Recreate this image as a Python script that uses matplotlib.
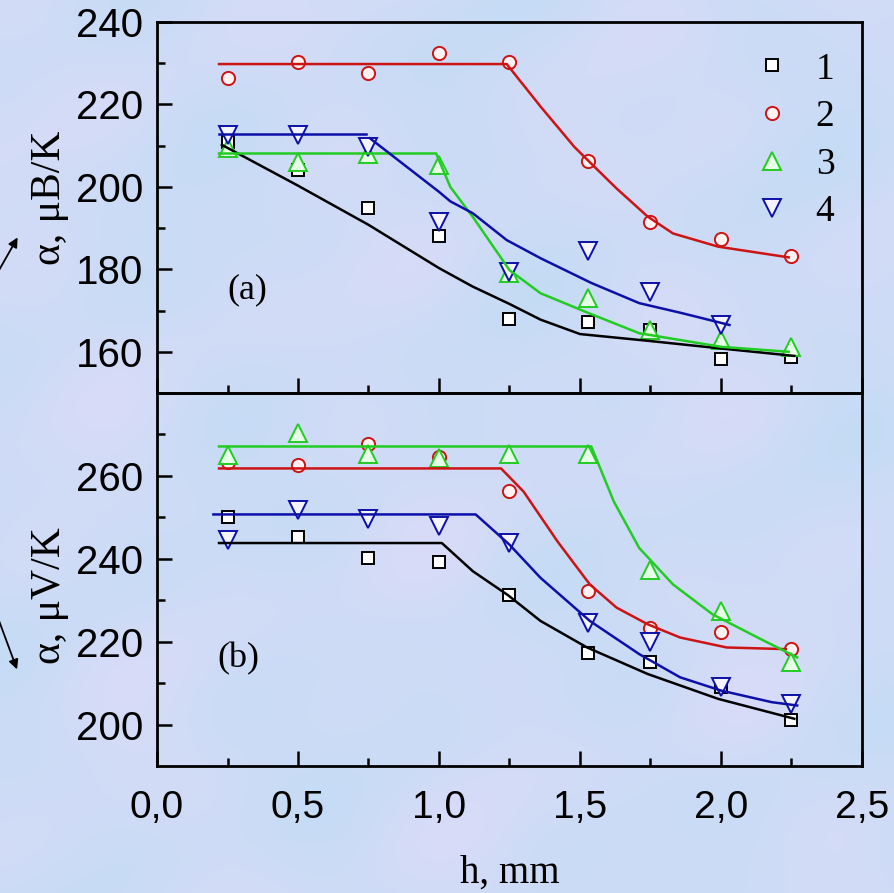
import numpy as np
import matplotlib
matplotlib.use("Agg")
import matplotlib.pyplot as plt
from matplotlib.lines import Line2D
from matplotlib.patches import FancyArrowPatch
from matplotlib.ticker import FixedLocator

# thickness points, mm
h_pts = [0.25, 0.5, 0.75, 1.0, 1.25, 1.53, 1.75, 2.0, 2.25]

# (a) alpha, uB/K
a1 = [211.0, 204.0, 195.0, 188.0, 168.0, 167.2, 165.3, 158.2, 158.7]
a2 = [226.4, 230.3, 227.6, 232.4, 230.3, 206.3, 191.5, 187.4, 183.2]
a3 = [209.4, 206.0, 208.0, 205.3, 179.1, 173.0, 165.3, 162.9, 161.2]
a4 = [212.6, 212.6, 209.7, 191.5, 179.4, 184.4, 174.5, 166.5]

# (b) alpha, uV/K
b1 = [250.0, 245.2, 240.2, 239.2, 231.2, 217.2, 215.2, 209.0, 201.0]
b2 = [263.4, 262.6, 267.8, 264.6, 256.4, 232.3, 223.2, 222.3, 218.3]
b3 = [265.1, 270.4, 265.4, 264.3, 265.4, 265.4, 237.4, 227.4, 215.0]
b4 = [244.6, 251.8, 249.6, 247.8, 243.8, 224.6, 219.8, 209.0, 205.0]

# fitted curves (a)
fa1_h = [0.23, 0.5, 0.75, 1.0, 1.12, 1.25, 1.36, 1.5, 1.75, 2.0, 2.26]
fa1_v = [210.2, 200.3, 190.8, 180.3, 175.8, 171.6, 167.8, 164.3, 162.6, 160.8, 159.0]
fa2_h = [0.22, 1.24, 1.36, 1.48, 1.53, 1.63, 1.74, 1.83, 1.99, 2.24]
fa2_v = [229.8, 229.8, 219.5, 209.7, 206.3, 199.6, 192.8, 188.7, 185.5, 182.9]
fa3_h = [0.22, 0.99, 1.04, 1.12, 1.25, 1.36, 1.53, 1.71, 2.0, 2.24]
fa3_v = [208.1, 208.1, 200.0, 192.7, 179.8, 174.2, 169.4, 164.5, 161.2, 160.0]
fa4a_h = [0.22, 0.74]
fa4a_v = [212.8, 212.8]
fa4b_h = [0.755, 1.0, 1.04, 1.12, 1.24, 1.36, 1.54, 1.71, 1.86, 2.03]
fa4b_v = [211.8, 198.8, 196.5, 193.6, 187.1, 182.7, 176.7, 171.8, 169.4, 166.5]

# fitted curves (b)
fb1_h = [0.22, 1.01, 1.12, 1.245, 1.36, 1.525, 1.74, 1.99, 2.26]
fb1_v = [243.8, 243.8, 237.0, 231.2, 225.0, 218.6, 212.2, 206.2, 201.4]
fb2_h = [0.22, 1.22, 1.3, 1.42, 1.535, 1.63, 1.74, 1.855, 2.02, 2.23]
fb2_v = [261.8, 261.8, 256.2, 244.2, 233.8, 228.2, 224.2, 221.0, 218.6, 218.2]
fb3_h = [0.22, 1.54, 1.62, 1.71, 1.83, 1.97, 2.13, 2.27]
fb3_v = [267.1, 267.1, 253.8, 242.6, 233.8, 226.6, 221.0, 216.2]
fb4_h = [0.2, 1.13, 1.25, 1.36, 1.535, 1.71, 1.855, 2.0, 2.18, 2.27]
fb4_v = [250.7, 250.7, 243.4, 235.4, 225.0, 217.0, 211.4, 208.2, 205.4, 204.6]

labels = ["1", "2", "3", "4"]
xtick_labels = ["0,0", "0,5", "1,0", "1,5", "2,0", "2,5"]

sans = "Liberation Sans"
serif = "Liberation Serif"

RED = "#cc1414"
GREEN = "#22cc22"
BLUE = "#0c10a8"

styles = [
    dict(marker="s", ms=8.5, mec="black", mfc="white"),
    dict(marker="o", ms=9.5, mec=RED, mfc="#fff2f2"),
    dict(marker="^", ms=13, mec=GREEN, mfc="#e6ffe6"),
    dict(marker="v", ms=13, mec=BLUE, mfc="#f4f4ff"),
]

fig = plt.figure(figsize=(8.95, 8.93), dpi=100)

# soft mottled backdrop
bg = fig.add_axes([0, 0, 1, 1], zorder=-10)
yy, xx = np.mgrid[0:1:300j, 0:1:300j]
tex = (np.sin(2 * np.pi * (2.3 * xx + 1.1 * yy)) * np.sin(2 * np.pi * (1.7 * yy - 0.6 * xx))
       + 0.5 * np.sin(2 * np.pi * 4.3 * xx + 1.0) * np.cos(2 * np.pi * 3.1 * yy + 0.4)
       + 0.3 * np.cos(2 * np.pi * (6.2 * yy + 2.5 * xx)))
tex = (tex - tex.min()) / (tex.max() - tex.min())
c1 = np.array([0.77, 0.86, 0.96])
c2 = np.array([0.85, 0.86, 0.97])
img = c1 + (c2 - c1) * tex[..., None]
bg.imshow(img, aspect="auto", extent=[0, 1, 0, 1], interpolation="bicubic")
bg.axis("off")

left, width = 157 / 895, 705 / 895
ax_a = fig.add_axes([left, 1 - 393 / 893, width, 371 / 893])
ax_b = fig.add_axes([left, 1 - 766 / 893, width, 373 / 893])


def draw_panel(ax, series, fits):
    for vals, st in zip(series, styles):
        ax.plot(h_pts[:len(vals)], vals, ls="none", mew=1.4, zorder=3, **st)
    for (fh, fv), col in fits:
        ax.plot(fh, fv, color=col, lw=1.8, zorder=4)


draw_panel(ax_a, [a1, a2, a3, a4],
           [((fa1_h, fa1_v), "black"), ((fa2_h, fa2_v), RED), ((fa3_h, fa3_v), GREEN),
            ((fa4a_h, fa4a_v), BLUE), ((fa4b_h, fa4b_v), BLUE)])
draw_panel(ax_b, [b1, b2, b3, b4],
           [((fb1_h, fb1_v), "black"), ((fb2_h, fb2_v), RED), ((fb3_h, fb3_v), GREEN),
            ((fb4_h, fb4_v), BLUE)])

ax_a.set_ylim(150, 240)
ax_b.set_ylim(190, 280)
ax_a.yaxis.set_major_locator(FixedLocator([160, 180, 200, 220, 240]))
ax_a.yaxis.set_minor_locator(FixedLocator([170, 190, 210, 230]))
ax_b.yaxis.set_major_locator(FixedLocator([200, 220, 240, 260]))
ax_b.yaxis.set_minor_locator(FixedLocator([210, 230, 250, 270]))

for ax in (ax_a, ax_b):
    ax.set_facecolor("none")
    ax.set_xlim(0, 2.5)
    ax.xaxis.set_major_locator(FixedLocator([0, 0.5, 1.0, 1.5, 2.0, 2.5]))
    ax.xaxis.set_minor_locator(FixedLocator([0.25, 0.75, 1.25, 1.75, 2.25]))
    for sp in ax.spines.values():
        sp.set_linewidth(2)
    ax.tick_params(which="both", direction="in", top=False, right=False, width=1.8)
    ax.tick_params(which="major", length=11)
    ax.tick_params(which="minor", length=6)
    ax.tick_params(axis="y", which="major", pad=10, labelsize=29)
    ax.tick_params(axis="x", which="major", pad=17, labelsize=28)
    for t in ax.get_yticklabels():
        t.set_family(sans)

ax_a.tick_params(axis="x", labelbottom=False)
ax_b.set_xticklabels(xtick_labels, family=sans)

ax_a.set_ylabel("α, μB/K", family=serif, fontsize=30, va="center")
ax_b.set_ylabel("α, μV/K", family=serif, fontsize=30, va="center")
ax_a.yaxis.set_label_coords(-0.152, 0.526)
ax_b.yaxis.set_label_coords(-0.152, 0.458)

ax_b.set_xlabel("h, mm", family=serif, fontsize=28, va="center")
ax_b.xaxis.set_label_coords(0.5, -0.287)

ax_a.text(0.32, 175, "(a)", family=serif, fontsize=26, ha="center", va="center")
ax_b.text(0.29, 216, "(b)", family=serif, fontsize=26, ha="center", va="center")

handles = [Line2D([], [], ls="none", mew=1.4, **st) for st in styles]
ax_a.legend(handles, labels, loc="upper left", bbox_to_anchor=(0.803, 1.01),
            frameon=False, prop={"family": serif, "size": 27},
            handlelength=0.8, handletextpad=0.77, labelspacing=0.35)

# side arrows
fig.add_artist(FancyArrowPatch(
    (-2 / 895, 1 - 272 / 893), (19 / 895, 1 - 235 / 893), transform=fig.transFigure,
    arrowstyle="-|>", mutation_scale=14, color="black", lw=1.3))
fig.add_artist(FancyArrowPatch(
    (-2 / 895, 1 - 618 / 893), (18 / 895, 1 - 672 / 893), transform=fig.transFigure,
    arrowstyle="-|>", mutation_scale=14, color="black", lw=1.3))

fig.savefig("out.png", dpi=100)
